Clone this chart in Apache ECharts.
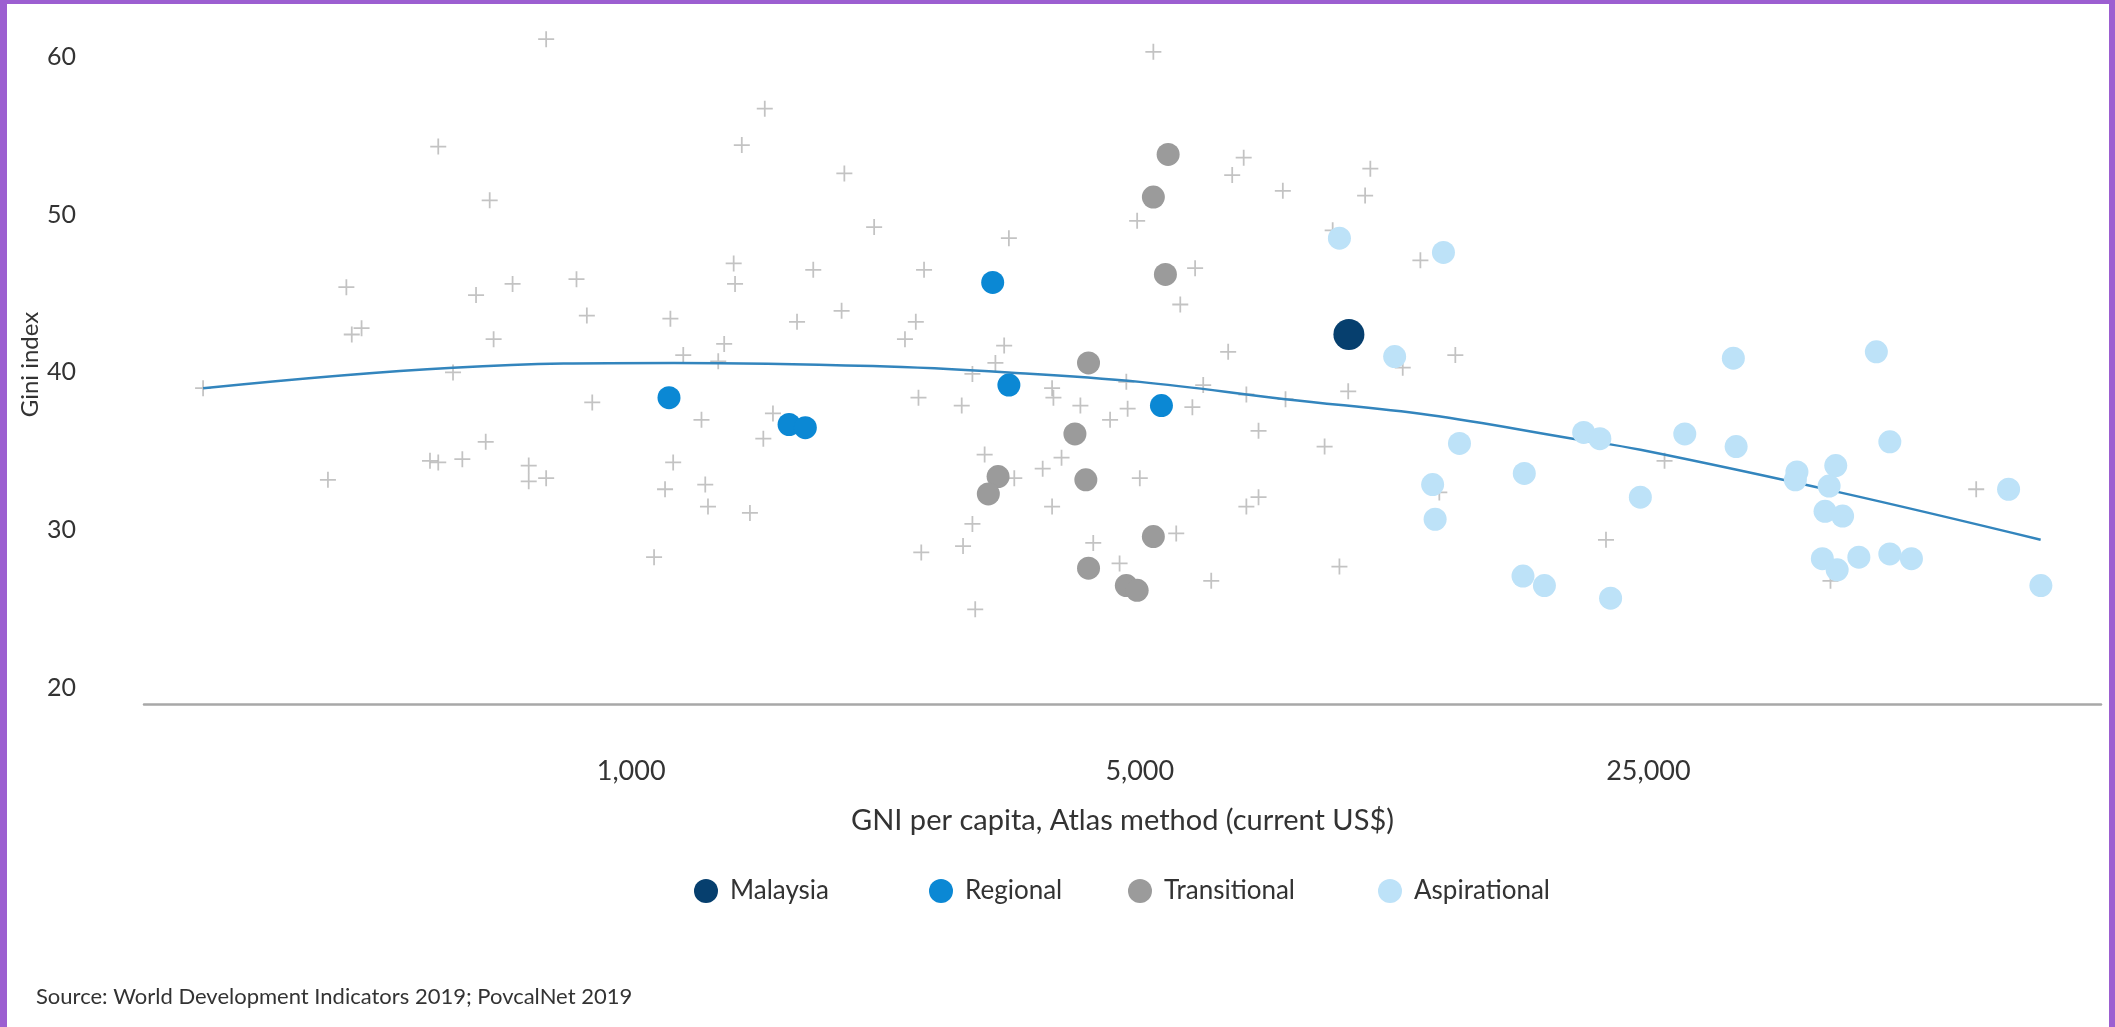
<!DOCTYPE html>
<html>
<head>
<meta charset="utf-8">
<script src="https://cdn.jsdelivr.net/npm/echarts@6/dist/echarts.min.js"></script>
<style>
  html, body { margin: 0; padding: 0; background: #ffffff; }
  #chart { position: absolute; left: 0; top: 0; width: 2115px; height: 1027px; }
  .frame { position: absolute; background: #9c5fd1; z-index: 10; }
</style>
</head>
<body>
<div id="chart"></div>
<div class="frame" style="left:0;top:0;width:7px;height:1027px;"></div>
<div class="frame" style="left:0;top:0;width:2115px;height:4px;"></div>
<div class="frame" style="right:0;top:0;width:6px;height:1027px;"></div>
<script>
// ---- data (GNI per capita US$, Gini index) ----
const xTicks = [1000, 5000, 25000];
const yTicks = [20, 30, 40, 50, 60];
const groupNames = ['Malaysia', 'Regional', 'Transitional', 'Aspirational'];

const otherCountries = [
  [258,39.0],[383,33.2],[406,45.4],[413,42.4],[426,42.8],[543,54.3],[529,34.4],[543,34.3],[569,40.0],[586,34.5],
  [612,44.9],[631,35.6],[639,50.9],[647,42.1],[687,45.6],[723,34.1],[723,33.1],[764,33.3],[764,61.1],[841,45.9],
  [869,43.6],[884,38.1],
  [1526,56.7],[1419,54.4],[1963,52.6],[2157,49.2],[3304,48.5],[4958,49.6],[1383,46.9],[1389,45.6],[1779,46.5],
  [2526,46.5],[1132,43.4],[1690,43.2],[1946,43.9],[2461,43.2],[2378,42.1],[3255,41.7],[1342,41.8],[1179,41.1],
  [1317,40.7],[3166,40.6],
  [1249,37.0],[1566,37.4],[1519,35.8],[1142,34.3],[1113,32.6],[1264,32.9],[1275,31.5],[1456,31.1],[1075,28.3],
  [2482,38.4],[2846,37.9],[2944,39.9],[3788,39.0],[3804,38.4],[4143,37.9],[4811,37.7],[4551,37.0],[4791,39.4],
  [3060,34.8],[3361,33.3],[3677,33.9],[3903,34.6],[3788,31.5],[5000,33.3],[2944,30.4],[2858,29.0],[2504,28.6],
  [4315,29.2],[4690,27.9],[2970,25.0],
  [5219,60.3],[6946,53.6],[6698,52.5],[7862,51.5],[10370,52.9],[10200,51.2],[5956,46.6],[5683,44.3],[9205,49.0],
  [12150,47.1],[6613,41.3],[13570,41.1],[11490,40.3],
  [6111,39.2],[7005,38.6],[7929,38.3],[9669,38.8],[5905,37.8],[7280,36.3],[8973,35.3],[7280,32.1],[7005,31.5],
  [5611,29.8],[6268,26.8],[9404,27.7],[21860,29.4],[12900,32.4],
  [26310,34.4],[44480,26.8],[70540,32.6]
];
const malaysia = [[9690,42.4]];
const regional = [[3139,45.7],[1127,38.4],[1648,36.7],[1735,36.5],[3304,39.2],[5354,37.9]];
const transitional = [
  [5469,53.8],[5219,51.1],[5422,46.2],[4251,40.6],[4072,36.1],[3193,33.4],[3096,32.3],[4215,33.2],
  [4251,27.6],[4791,26.5],[4958,26.2],[5219,29.6]
];
const aspirational = [
  [9404,48.5],[13070,47.6],[11200,41.0],[13750,35.5],[12630,32.9],[12730,30.7],[16880,33.6],[16810,27.1],
  [17990,26.5],[20370,36.2],[21440,35.8],[22180,25.7],[24370,32.1],[28050,36.1],[33000,35.3],[32710,40.9],
  [51430,41.3],[53670,35.6],[40000,33.7],[39800,33.2],[45230,34.1],[44290,32.8],[43720,31.2],[46220,30.9],
  [43350,28.2],[45430,27.5],[48660,28.3],[53670,28.5],[57470,28.2],[78150,32.6],[86560,26.5]
];
const trendGni  = [258, 569, 1146, 2148, 3300, 5000, 7925, 12500, 19680, 24380, 45810, 86500];
const trendGini = [39.0, 40.3, 40.6, 40.4, 40.0, 39.4, 38.3, 37.3, 35.8, 35.1, 32.4, 29.4];

// ---- chart ----
const FONT = 'Lato, "Open Sans", sans-serif';
const chart = echarts.init(document.getElementById('chart'), null, { renderer: 'canvas' });
const crossPath = 'path://M0,4.45h10v1.1h-10z M4.45,0h1.1v10h-1.1z';

const legendLefts = [689, 924, 1123, 1373];
const legends = groupNames.map((n, i) => ({
  left: legendLefts[i],
  top: 873,
  itemWidth: 24,
  itemHeight: 24,
  icon: 'circle',
  textStyle: { fontSize: 26, color: '#333', fontFamily: FONT, padding: [0, 0, 0, 7] },
  data: [n]
}));

const option = {
  backgroundColor: '#ffffff',
  animation: false,
  textStyle: { fontFamily: FONT },
  grid: { left: 144, right: 14, top: 25, bottom: 323, containLabel: false },
  xAxis: {
    type: 'log',
    logBase: 10,
    min: 214,
    max: 104700,
    name: 'GNI per capita, Atlas method (current US$)',
    nameLocation: 'middle',
    nameGap: 102,
    nameTextStyle: { fontSize: 29, color: '#333', fontFamily: FONT },
    axisLine: { show: true, lineStyle: { color: '#a8a8a8', width: 2.5 } },
    axisTick: { show: false },
    splitLine: { show: false },
    minorTick: { show: false },
    axisLabel: {
      customValues: xTicks,
      margin: 54,
      fontSize: 27,
      color: '#333',
      fontFamily: FONT,
      formatter: v => Math.round(v).toLocaleString('en-US')
    }
  },
  yAxis: {
    type: 'value',
    min: 19,
    max: 62,
    name: 'Gini index',
    nameLocation: 'middle',
    nameRotate: 90,
    nameGap: 102,
    nameMoveOverlap: false,
    nameTextStyle: { fontSize: 24, color: '#333', fontFamily: FONT },
    axisLine: { show: false },
    axisTick: { show: false },
    splitLine: { show: false },
    axisLabel: {
      customValues: yTicks,
      margin: 68,
      fontSize: 25,
      color: '#333',
      fontFamily: FONT
    }
  },
  legend: legends,
  graphic: [{
    type: 'text',
    left: 36,
    top: 986,
    style: { text: 'Source: World Development Indicators 2019; PovcalNet 2019', fontSize: 22, fill: '#333', fontFamily: FONT }
  }],
  series: [
    {
      name: 'Other', type: 'scatter', data: otherCountries, z: 1,
      symbol: crossPath, symbolSize: 16,
      itemStyle: { color: '#b4b4b4' }, silent: true
    },
    {
      name: 'Trend', type: 'line', z: 2, smooth: 0.4, showSymbol: false, symbol: 'none',
      data: trendGni.map((g, i) => [g, trendGini[i]]),
      lineStyle: { color: '#3385bd', width: 2.5 }, silent: true
    },
    {
      name: 'Aspirational', type: 'scatter', data: aspirational, z: 3,
      symbol: 'circle', symbolSize: 23, itemStyle: { color: '#bde2f8', opacity: 1 }
    },
    {
      name: 'Transitional', type: 'scatter', data: transitional, z: 3,
      symbol: 'circle', symbolSize: 23, itemStyle: { color: '#9b9b9b', opacity: 1 }
    },
    {
      name: 'Regional', type: 'scatter', data: regional, z: 3,
      symbol: 'circle', symbolSize: 23, itemStyle: { color: '#0b88d4', opacity: 1 }
    },
    {
      name: 'Malaysia', type: 'scatter', data: malaysia, z: 4,
      symbol: 'circle', symbolSize: 31, itemStyle: { color: '#063f6e', opacity: 1 }
    }
  ]
};
chart.setOption(option);
</script>
</body>
</html>
